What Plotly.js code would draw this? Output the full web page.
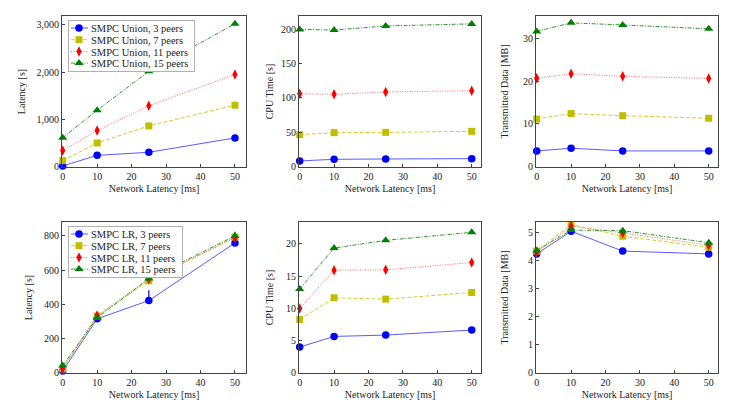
<!DOCTYPE html>
<html>
<head>
<meta charset="utf-8">
<script src="https://cdn.plot.ly/plotly-3.0.1.min.js"></script>
<style>
  html, body { margin: 0; padding: 0; background: #fff; }
  #chart { width: 736px; height: 409px; }
</style>
</head>
<body>
<div id="chart"></div>
<script>
// network latency [ms] on every x axis
const NET_LATENCY = [0, 10, 25, 50];
const PEERS = [3, 7, 11, 15];

// SMPC Union
const UNION_LATENCY = [
  [15, 240, 304, 609],
  [127, 502, 863, 1302],
  [340, 764, 1288, 1953],
  [610, 1196, 2020, 3025]
];
const UNION_CPU = [
  [7.8, 10.2, 10.7, 11.2],
  [46, 49, 49.5, 51],
  [105.8, 104.9, 108.3, 110.2],
  [199.5, 198.5, 204.5, 207.5]
];
const UNION_DATA = [
  [3.66, 4.29, 3.66, 3.66],
  [11.1, 12.4, 11.9, 11.3],
  [20.65, 21.7, 21.1, 20.6],
  [31.6, 33.6, 33.1, 32.2]
];

// SMPC LR
const LR_LATENCY = [
  [8, 314, 421, 759],
  [20, 330, 537, 794],
  [23, 334, 548, 788],
  [40, 320, 550, 800]
];
const LR_LATENCY_ERR = [
  [0, 0, 60, 0],
  [0, 0, 0, 0],
  [0, 0, 0, 0],
  [0, 0, 0, 25]
];
const LR_CPU = [
  [3.98, 5.63, 5.84, 6.62],
  [8.27, 11.63, 11.42, 12.45],
  [9.97, 15.92, 15.97, 17.1],
  [13.0, 19.35, 20.55, 21.8]
];
const LR_DATA = [
  [4.25, 5.06, 4.35, 4.25],
  [4.35, 5.3, 4.88, 4.49],
  [4.3, 5.24, 5.0, 4.56],
  [4.37, 5.1, 5.08, 4.65]
];

// pgfplots-like series styles
const STYLES = [
  {marker: "#0000ff", line: "#5a5aff", dash: "solid", symbol: "circle", size: 7.5},
  {marker: "#bfbf00", line: "#d0d030", dash: "4px,2px", symbol: "square", size: 7},
  {marker: "#ff0000", line: "#ff6a6a", dash: "1px,1.5px", symbol: "diamond-tall", size: 7.5},
  {marker: "#008000", line: "#2f9a2f", dash: "4px,1.5px,1px,1.5px", symbol: "triangle-up", size: 8}
];

function makeTraces(values, axisNum, prefix, legendId, errors) {
  return values.map(function (ys, i) {
    const s = STYLES[i];
    const tr = {
      x: NET_LATENCY,
      y: ys,
      type: "scatter",
      mode: "lines+markers",
      name: prefix + ", " + PEERS[i] + " peers",
      line: {color: s.line, width: 1, dash: s.dash},
      marker: {color: s.marker, symbol: s.symbol, size: s.size},
      cliponaxis: false,
      xaxis: "x" + (axisNum === 1 ? "" : axisNum),
      yaxis: "y" + (axisNum === 1 ? "" : axisNum),
      showlegend: !!legendId
    };
    if (legendId) tr.legend = legendId;
    if (errors) {
      tr.error_y = {type: "data", array: errors[i], arrayminus: [0, 0, 0, 0],
                    color: s.marker, thickness: 1.2, width: 0};
    }
    return tr;
  });
}

const DATA = [].concat(
  makeTraces(UNION_LATENCY, 1, "SMPC Union", "legend"),
  makeTraces(UNION_CPU, 2, "SMPC Union", null),
  makeTraces(UNION_DATA, 3, "SMPC Union", null),
  makeTraces(LR_LATENCY, 4, "SMPC LR", "legend2", LR_LATENCY_ERR),
  makeTraces(LR_CPU, 5, "SMPC LR", null),
  makeTraces(LR_DATA, 6, "SMPC LR", null)
);

const W = 736, H = 409;
const COLS = [[62, 246], [299, 481], [536, 718]];
const ROWS = [[16, 167], [222, 373]];
const SERIF = '"Liberation Serif", "DejaVu Serif", serif';
const FONT = {family: SERIF, size: 10, color: "#222"};

function xAxis(col, row, anchor) {
  return {
    domain: [COLS[col][0] / W, COLS[col][1] / W],
    anchor: anchor,
    range: col === 0 ? [-0.2, 53.2] : [-0.2, 52.7],
    dtick: 10,
    showline: true, mirror: true, linecolor: "#444", linewidth: 1,
    ticks: "inside", ticklen: 3, tickcolor: "#444",
    showgrid: false, zeroline: false,
    title: {text: "Network Latency [ms]", font: FONT, standoff: 3},
    tickfont: FONT
  };
}
function yAxis(row, anchor, range, dtick, title, standoff, fmt) {
  return {
    domain: [1 - ROWS[row][1] / H, 1 - ROWS[row][0] / H],
    anchor: anchor,
    range: range,
    dtick: dtick,
    tickformat: fmt || "",
    showline: true, mirror: true, linecolor: "#444", linewidth: 1,
    ticks: "inside", ticklen: 3, tickcolor: "#444",
    showgrid: false, zeroline: false,
    title: {text: title, font: FONT, standoff: standoff},
    tickfont: FONT
  };
}

const LEGEND_BASE = {
  xref: "paper", yref: "paper", xanchor: "left", yanchor: "top",
  bgcolor: "#ffffff", bordercolor: "#b0b0b0", borderwidth: 1,
  font: {family: SERIF, size: 10.5, color: "#222"},
  itemwidth: 30, tracegroupgap: 0
};

const LAYOUT = {
  width: W, height: H,
  margin: {l: 0, r: 0, t: 0, b: 0},
  paper_bgcolor: "#fff", plot_bgcolor: "#fff",
  font: FONT,
  xaxis: xAxis(0, 0, "y"),
  yaxis: yAxis(0, "x", [-7, 3190], 1000, "Latency [s]", 9, ",d"),
  xaxis2: xAxis(1, 0, "y2"),
  yaxis2: yAxis(0, "x2", [-1, 219], 50, "CPU Time [s]", 5),
  xaxis3: xAxis(2, 0, "y3"),
  yaxis3: yAxis(0, "x3", [-0.1, 35.2], 10, "Transmitted Data [MB]", 12),
  xaxis4: xAxis(0, 1, "y4"),
  yaxis4: yAxis(1, "x4", [-4, 882], 200, "Latency [s]", 9),
  xaxis5: xAxis(1, 1, "y5"),
  yaxis5: yAxis(1, "x5", [-0.05, 23.4], 5, "CPU Time [s]", 10),
  xaxis6: xAxis(2, 1, "y6"),
  yaxis6: yAxis(1, "x6", [-0.01, 5.39], 1, "Transmitted Data [MB]", 17),
  legend: Object.assign({}, LEGEND_BASE, {x: 68 / W, y: 1 - 20 / H}),
  legend2: Object.assign({}, LEGEND_BASE, {x: 68 / W, y: 1 - 226 / H})
};

// plotly's legend rows are at least 19px tall; pack them like pgfplots does
const ROW_PITCH = 11.7;
function tightenLegend(cls) {
  const lg = document.querySelector("g." + cls);
  if (!lg) return;
  const items = lg.querySelectorAll("g.traces");
  let maxW = 0;
  items.forEach(function (it, i) {
    it.setAttribute("transform", "translate(1," + (8 + i * ROW_PITCH) + ")");
    it.querySelectorAll("path.js-line").forEach(function (p) { p.setAttribute("d", "M2,0h17"); });
    it.querySelectorAll("path.scatterpts").forEach(function (p) { p.setAttribute("transform", "translate(10,0)"); });
    // text class is "legendtext" / "legend2text"
    const tx = it.querySelector("text");
    if (tx) {
      tx.setAttribute("x", 22);
      maxW = Math.max(maxW, tx.getComputedTextLength());
    }
  });
  const bg = lg.querySelector("rect.bg");
  if (bg) {
    bg.setAttribute("height", 16 + (items.length - 1) * ROW_PITCH);
    bg.setAttribute("width", 22 + maxW + 7);
  }
}

Plotly.newPlot("chart", DATA, LAYOUT, {displayModeBar: false, staticPlot: true}).then(function () {
  tightenLegend("legend");
  tightenLegend("legend2");
});
</script>
</body>
</html>
